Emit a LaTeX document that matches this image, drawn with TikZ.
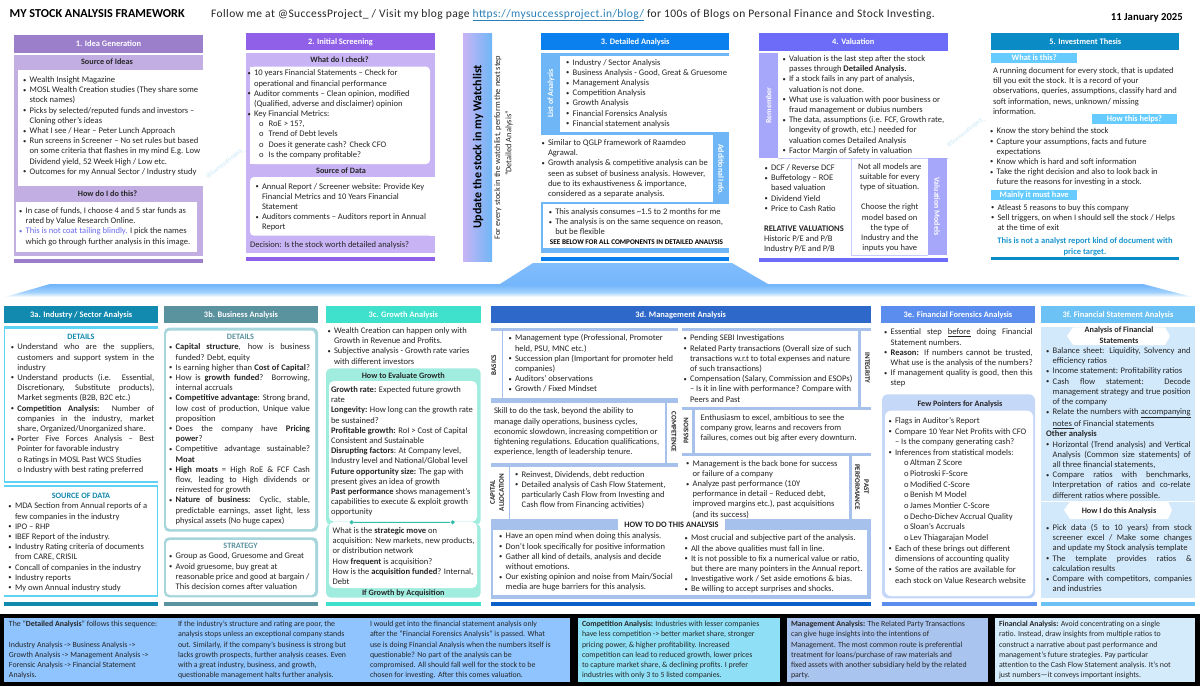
\documentclass[tikz,border=0pt]{standalone}
\usepackage{fontspec}
\setmainfont{Carlito}
\newfontfamily\spcfont[LetterSpace=3.5]{Carlito}
\usetikzlibrary{shapes.geometric}
\definecolor{ptext}{HTML}{262626}
\definecolor{ph1}{HTML}{9B7FCB}\definecolor{pb1}{HTML}{C2AEE3}
\definecolor{ph2}{HTML}{9060E8}\definecolor{pb2}{HTML}{C8B4F4}
\definecolor{ph3}{HTML}{0A7FEE}\definecolor{pb3}{HTML}{6FB6F6}
\definecolor{ph4}{HTML}{6C6CF8}\definecolor{pb4}{HTML}{A6A6FA}
\definecolor{ph5}{HTML}{0A8BC6}\definecolor{pb5}{HTML}{66CCFF}
\definecolor{hda}{HTML}{1289AE}\definecolor{sta}{HTML}{5FD3F3}
\definecolor{hdb}{HTML}{5A929E}\definecolor{stb}{HTML}{A6D6DC}
\definecolor{hdc}{HTML}{3FE0CC}\definecolor{stc}{HTML}{A0EDE0}
\definecolor{hdd}{HTML}{2E68C8}\definecolor{std}{HTML}{A6C2EC}\definecolor{bard}{HTML}{0A60C8}
\definecolor{hde}{HTML}{5B8DEF}\definecolor{ste}{HTML}{C6D8F8}
\definecolor{hdf}{HTML}{6CC2F4}\definecolor{stf}{HTML}{D2E9FB}
\definecolor{wmark}{HTML}{C4E6F6}
\definecolor{afa}{HTML}{A0D0FC}\definecolor{afb}{HTML}{74B6FB}\definecolor{afc}{HTML}{82BDFC}
\definecolor{bxa}{HTML}{8FC4FF}\definecolor{bxb}{HTML}{8FE0F6}\definecolor{bxc}{HTML}{A9C4EF}\definecolor{bxd}{HTML}{D4EBFC}
\pgfdeclareverticalshading{arrowfade}{100bp}{color(0bp)=(white);color(25bp)=(white);color(32.4bp)=(afa);color(42.6bp)=(afb);color(75bp)=(afc);color(100bp)=(afc)}
\newcounter{nn}
\newlength\bulw
\newcommand\mst{\rule{0pt}{7.5pt}}
\newcommand\bul{\raisebox{0.5pt}{\fontsize{6.5}{6.5}\selectfont •}}
\newcommand\bl[1]{\hbox{\mst\makebox[\bulw][l]{\bul}#1}}
\newcommand\jb[1]{\hbox to\hsize{\mst\makebox[\bulw][l]{\bul}#1}}
\newcommand\cl[1]{\hbox{\mst\kern\bulw #1}}
\newcommand\jc[1]{\hbox to\hsize{\mst\kern\bulw #1}}
\newcommand\ob[1]{\hbox{\mst\makebox[\bulw][l]{o}#1}}
\newcommand\pl[1]{\hbox{\mst#1}}
\tikzset{
 txt/.style={font=\fontsize{8.55}{10.2}\selectfont,text=ptext},
 small/.style={font=\fontsize{7.85}{10.17}\selectfont,text=ptext},
 hdt/.style={font=\fontsize{8.4}{10}\selectfont\bfseries,text=white},
 rhd/.style={font=\fontsize{7.9}{10}\selectfont\bfseries,text=white},
 ctr/.style={font=\fontsize{8.2}{10}\selectfont,text=ptext},
 bctr/.style={font=\fontsize{8.2}{10}\selectfont\bfseries,text=ptext},
 dia/.style={diamond,fill=hdc!85!black,inner sep=0pt,minimum size=4.5pt},
 wm/.style={font=\fontsize{6.4}{8}\selectfont,text=wmark,rotate=37},
 lbl/.style={font=\fontsize{7.1}{9}\selectfont\bfseries,text=ptext},
}
% #1 gap, #2 text x, #3 line centre y, #4 right edge, #5 lines
\newcommand\tb[5][6.5]{\stepcounter{nn}\node[txt,anchor=north west,inner sep=0pt,outer sep=0pt] (n\arabic{nn}) at ({#2-#1},{#3-4.7}) {\setlength\bulw{#1pt}\vtop{\hsize=\dimexpr#4pt-#2pt+#1pt\relax #5}};}
\newcommand\tbs[5][0]{\stepcounter{nn}\node[small,anchor=north west,inner sep=0pt,outer sep=0pt] (n\arabic{nn}) at ({#2-#1},{#3-4.7}) {\setlength\bulw{#1pt}\vtop{\hsize=\dimexpr#4pt-#2pt+#1pt\relax #5}};}
% centred text: x, y, style, text
\newcommand\ct[4]{\stepcounter{nn}\node[#3,anchor=base,inner sep=0pt] (n\arabic{nn}) at (#1,{#2+2.8}) {#4};}
% rotated: x, y, angle, style, text
\newcommand\rt[5]{\stepcounter{nn}\node[#4,rotate=#3,inner sep=0pt,align=center] (n\arabic{nn}) at (#1,#2) {#5};}
% header: x1 y1 x2 y2 colour text
\newcommand\hd[6]{\fill[#5] (#1,#2) rectangle (#3,#4);\stepcounter{nn}\node[hdt,anchor=base,inner sep=0pt] (n\arabic{nn}) at ({(#1+#3)/2},{(#2+#4)/2+2.8}) {#6};}
\begin{document}
\begin{tikzpicture}[x=1pt,y=-1pt]
\useasboundingbox (0,0) rectangle (1200,686);
\fill[white] (0,0) rectangle (1200,686);
% title line
\node[anchor=base west,inner sep=0pt,font=\fontsize{12.2}{13}\selectfont\bfseries,text=black] (title) at (9.5,17) {MY STOCK ANALYSIS FRAMEWORK};
\node[anchor=base west,inner sep=0pt,font=\fontsize{11.5}{13}\spcfont,text=ptext] (follow) at (211,17) {Follow me at @SuccessProject\_ / Visit my blog page \textcolor[HTML]{2A7FB8}{\underline{https://mysuccessproject.in/blog/}} for 100s of Blogs on Personal Finance and Stock Investing.};
\node[anchor=base east,inner sep=0pt,font=\fontsize{10.7}{12}\selectfont\bfseries,text=black] (date) at (1183,20) {11 January 2025};
% arrow band
\shade[shading=arrowfade] (5,297) -- (50,284) -- (500,284) -- (533,263) -- (732,263) -- (768,284) -- (1143,284) -- (1192,297) -- cycle;
% watermarks
\node[wm] (wm1) at (225.5,163) {@SuccessProject\_};
\node[wm] (wm2) at (966,132) {@SuccessProject\_};
%%%% Panel 1
\hd{14}{35}{203}{52.5}{ph1}{1. Idea Generation}
\fill[pb1] (14,55) rectangle (203,256);
\fill[white] (17.7,70) rectangle (203,186);
\fill[white] (15.5,201.7) rectangle (197,251.7);
\fill[ph1] (14,259.3) rectangle (203,263);
\ct{107}{62}{bctr}{Source of Ideas}
\ct{107.5}{193.7}{bctr}{How do I do this?}
\tb{29.7}{79.7}{200}{
\bl{Wealth Insight Magazine}
\bl{MOSL Wealth Creation studies (They share some}
\cl{stock names)}
\bl{Picks by selected/reputed funds and investors –}
\cl{Cloning other’s ideas}
\bl{What I see / Hear – Peter Lunch Approach}
\bl{Run screens in Screener – No set rules but based}
\cl{on some criteria that flashes in my mind E.g. Low}
\cl{Dividend yield, 52 Week High / Low etc.}
\bl{Outcomes for my Annual Sector / Industry study}}
\tb{25.7}{210.7}{195}{
\bl{In case of funds, I choose 4 and 5 star funds as}
\cl{rated by Value Research Online.}
\hbox{\mst\makebox[\bulw][l]{\color[HTML]{6A6AF0}\bul}\textcolor[HTML]{6A6AF0}{This is not coat tailing blindly.} I pick the names}
\cl{which go through further analysis in this image.}}
%%%% Panel 2
\hd{246}{33}{435}{50}{ph2}{2. Initial Screening}
\fill[pb2] (246,52.5) rectangle (435,253);
\fill[white,rounded corners=4pt] (250,66.7) rectangle (430,164);
\fill[white] (250,66.7) rectangle (256,164);
\fill[white,rounded corners=4pt] (250,177) rectangle (436,235.7);
\fill[white] (430,177) rectangle (435,235.7);
\fill[ph2] (246,256.7) rectangle (435,260.7);
\ct{339.5}{60}{bctr}{What do I check?}
\ct{341}{171}{bctr}{Source of Data}
\tb{254}{73}{430}{
\bl{10 years Financial Statements – Check for}
\cl{operational and financial performance}
\bl{Auditor comments – Clean opinion, modified}
\cl{(Qualified, adverse and disclaimer) opinion}
\bl{Key Financial Metrics:}}
\tb[9.7]{268.7}{123.9}{430}{
\ob{RoE > 15?,}
\ob{Trend of Debt levels}
\ob{Does it generate cash? Check CFO}
\ob{Is the company profitable?}}
\tb{262}{186.3}{434}{
\bl{Annual Report / Screener website: Provide Key}
\cl{Financial Metrics and 10 Years Financial}
\cl{Statement}
\bl{Auditors comments – Auditors report in Annual}
\cl{Report}}
\tb[0]{250}{244.3}{434}{\pl{Decision: Is the stock worth detailed analysis?}}
%%%% Watchlist
\shade[left color=pb2,right color=pb3] (463,33) rectangle (492,261);
\rt{478}{147}{90}{font=\fontsize{12}{15}\selectfont\bfseries,text=black}{Update the stock in my Watchlist}
\rt{498}{147.5}{90}{font=\fontsize{8.4}{10}\selectfont,text=ptext}{For every stock in the watchlist, perform the next step}
\rt{509}{143.5}{90}{font=\fontsize{8.4}{10}\selectfont,text=ptext}{“Detailed Analysis”}
%%%% Panel 3
\hd{541}{33}{729.3}{50}{ph3}{3. Detailed Analysis}
\fill[pb3] (541,52.5) rectangle (729.3,253);
\fill[white] (560,55.6) rectangle (729.3,131.7);
\fill[white] (541,135) rectangle (713,201.7);
\fill[white] (542.7,204) rectangle (729.3,248.3);
\fill[ph3] (541,257) rectangle (729.3,260.7);
\rt{551}{93.5}{90}{rhd}{List of Analysis}
\rt{721}{169.5}{-90}{rhd}{Additional Info.}
\tb{572.7}{62.3}{728}{
\bl{Industry / Sector Analysis}
\bl{Business Analysis - Good, Great \& Gruesome}
\bl{Management Analysis}
\bl{Competition Analysis}
\bl{Growth Analysis}
\bl{Financial Forensics Analysis}
\bl{Financial statement analysis}}
\tb{548}{142.7}{712}{
\bl{Similar to QGLP framework of Raamdeo}
\cl{Agrawal.}
\bl{Growth analysis \& competitive analysis can be}
\cl{seen as subset of business analysis. However,}
\cl{due to its exhaustiveness \& importance,}
\cl{considered as a separate analysis.}}
\tb{555.3}{211.7}{728}{
\bl{This analysis consumes \textasciitilde 1.5 to 2 months for me}
\bl{The analysis is on the same sequence on reason,}
\cl{but be flexible}}
\ct{636.5}{241.3}{font=\fontsize{7.2}{8}\selectfont\bfseries,text=black}{SEE BELOW FOR ALL COMPONENTS IN DETAILED ANALYSIS}
%%%% Panel 4
\hd{759}{33}{947.7}{50.5}{ph4}{4. Valuation}
\fill[pb4] (759,53) rectangle (778,158);
\fill[pb4!60] (778,157.6) rectangle (947.7,158.6);
\fill[pb4] (927.7,158) rectangle (946.7,255);
\draw[pb4!60,line width=0.6pt] (851.7,158) -- (851.7,255.3) -- (927.7,255.3);
\fill[ph4] (759,257.7) rectangle (947.7,261.7);
\rt{768.5}{105.5}{90}{rhd}{Remember}
\rt{937}{206.5}{-90}{rhd}{Valuation Models}
\tb{789}{58.7}{945}{
\bl{Valuation is the last step after the stock}
\cl{passes through \textbf{Detailed Analysis.}}
\bl{If a stock fails in any part of analysis,}
\cl{valuation is not done.}
\bl{What use is valuation with poor business  or}
\cl{fraud management or dubius numbers}
\bl{The data, assumptions (i.e. FCF, Growth rate,}
\cl{longevity of growth, etc.) needed for}
\cl{valuation comes Detailed Analysis}
\bl{Factor Margin of Safety in valuation}}
\tb{771}{167.7}{850}{
\bl{DCF / Reverse DCF}
\bl{Buffetology – ROE}
\cl{based valuation}
\bl{Dividend Yield}
\bl{Price to Cash Ratio}}
\tb[0]{764}{228.7}{850}{
\pl{\textbf{RELATIVE VALUATIONS}}
\pl{Historic P/E and P/B}
\pl{Industry P/E and P/B}}
\stepcounter{nn}\node[txt,anchor=north,inner sep=0pt] (n\arabic{nn}) at (889.7,161.3) {\vtop{\hsize=76pt\parindent=0pt\baselineskip=10.2pt\lineskiplimit=-5pt
\hbox to\hsize{\hss\mst Not all models are\hss}
\hbox to\hsize{\hss\mst suitable for every\hss}
\hbox to\hsize{\hss\mst type of situation.\hss}
\vskip10.2pt
\hbox to\hsize{\hss\mst Choose the right\hss}
\hbox to\hsize{\hss\mst model based on\hss}
\hbox to\hsize{\hss\mst the type of\hss}
\hbox to\hsize{\hss\mst Industry and the\hss}
\hbox to\hsize{\hss\mst inputs you have\hss}}};
%%%% Panel 5
\hd{991.3}{33}{1179.3}{50}{ph5}{5. Investment Thesis}
\hd{991.3}{52.7}{1077}{62.7}{pb5}{What is this?}
\hd{1092}{114}{1177}{124}{pb5}{How this helps?}
\hd{991.3}{190}{1077}{200}{pb5}{Mainly it must have}
\fill[ph5] (991.3,256.7) rectangle (1179.3,260);
\tb[0]{993}{70.7}{1178}{
\pl{A running document for every stock, that is updated}
\pl{till you exit the stock. It is a record of  your}
\pl{observations, queries, assumptions, classify hard and}
\pl{soft information, news, unknown/ missing}
\pl{information.}}
\tb{996.7}{131}{1178}{
\bl{Know the story behind the stock}
\bl{Capture your assumptions, facts and future}
\cl{expectations}
\bl{Know which is hard and soft information}
\bl{Take the right decision and also to look back in}
\cl{future the reasons for investing in a stock.}}
\tb{997.5}{207.3}{1178}{
\bl{Atleast 5 reasons to buy this company}
\bl{Sell triggers, on when I should sell the stock  / Helps}
\cl{at the time of exit}}
\ct{1085}{241}{font=\fontsize{8.5}{10}\selectfont\bfseries,text=ph5!85!pb5}{This is not a analyst report kind of document with}
\ct{1085}{251.7}{font=\fontsize{8.5}{10}\selectfont\bfseries,text=ph5!85!pb5}{price target.}
%%%% 3a
\hd{4}{305.7}{158.3}{323.3}{hda}{3a. Industry / Sector Analysis}
\fill[sta] (4,326) rectangle (158.3,483);
\fill[white] (5,329) rectangle (158.3,480.7);
\fill[sta] (4,485) rectangle (158.3,597);
\fill[white] (4,487.3) rectangle (156.5,595);
\fill[hda] (4,601.7) rectangle (158.3,605.7);
\ct{81}{337}{font=\fontsize{8.2}{10}\selectfont\bfseries,text=hda}{DETAILS}
\ct{81}{495.3}{font=\fontsize{8.2}{10}\selectfont\bfseries,text=hda}{SOURCE OF DATA}
\tb{17.3}{347}{154.3}{
\jb{Understand who are the suppliers,}
\jc{customers and support system in the}
\cl{industry}
\jb{Understand products (i.e. Essential,}
\jc{Discretionary, Substitute products),}
\cl{Market segments (B2B, B2C etc.)}
\jb{\textbf{Competition Analysis:} Number of}
\jc{companies in the industry, market}
\cl{share, Organized/Unorganized share.}
\jb{Porter Five Forces Analysis – Best}
\cl{Pointer for favorable industry}
\cl{o Ratings in MOSL Past WCS Studies}
\cl{o Industry with best rating preferred}}
\tb{15}{506}{155}{
\bl{MDA Section from Annual reports of a}
\cl{few companies in the industry}
\bl{IPO – RHP}
\bl{IBEF Report of the industry.}
\bl{Industry Rating criteria of documents}
\cl{from CARE, CRISIL}
\bl{Concall of companies in the industry}
\bl{Industry reports}
\bl{My own Annual industry study}}
%%%% 3b
\hd{163.7}{305.7}{318.3}{323.3}{hdb}{3b. Business Analysis}
\fill[stb,rounded corners=5pt] (164,327.7) rectangle (318,531.7);
\fill[white,rounded corners=4pt] (166,330.5) rectangle (315,529);
\fill[stb,rounded corners=5pt] (164,537.3) rectangle (318,597.3);
\fill[white,rounded corners=4pt] (166,540) rectangle (315,595);
\fill[hdb] (163.7,601.7) rectangle (318.3,605.7);
\ct{240.5}{337}{font=\fontsize{8.2}{10}\selectfont\bfseries,text=hdb}{DETAILS}
\ct{240.5}{545.7}{font=\fontsize{8.2}{10}\selectfont\bfseries,text=hdb}{STRATEGY}
\tb{175.7}{347}{310}{
\jb{\textbf{Capital structure}, how is business}
\cl{funded? Debt, equity}
\jb{Is earning higher than \textbf{Cost of Capital}?}
\jb{How is \textbf{growth funded}? Borrowing,}
\cl{internal accruals}
\jb{\textbf{Competitive advantage}: Strong brand,}
\jc{low cost of production, Unique value}
\cl{proposition}
\jb{Does the company have \textbf{Pricing}}
\cl{\textbf{power}?}
\jb{Competitive advantage sustainable?}
\cl{\textbf{Moat}}
\jb{\textbf{High moats} = High RoE \& FCF Cash}
\jc{flow, leading to High dividends or}
\cl{reinvested for growth}
\jb{\textbf{Nature of business:} Cyclic, stable,}
\jc{predictable earnings, asset light, less}
\cl{physical assets (No huge capex)}}
\tb{175.7}{556}{312}{
\bl{Group as Good, Gruesome and Great}
\bl{Avoid gruesome, buy great at}
\cl{reasonable price and good at bargain /}
\cl{This decision comes after valuation}}
%%%% 3c
\hd{326}{305.7}{480.7}{323.3}{hdc}{3c. Growth Analysis}
\tb{334}{330.7}{480}{
\bl{Wealth Creation can happen only with}
\cl{Growth in Revenue and Profits.}
\bl{Subjective analysis - Growth rate varies}
\cl{with different investors}}
\fill[stc,rounded corners=5pt] (326,368.3) rectangle (480.7,525);
\fill[white,rounded corners=5pt] (329,381) rectangle (477,521.7);
\fill[stc,rounded corners=5pt] (326,524) rectangle (480.7,597.7);
\fill[white,rounded corners=5pt] (329,522) rectangle (477,588);
\node[dia] (gd1) at (351.7,522.3) {};
\node[dia] (gd2) at (452.7,522.3) {};
\draw[hdc!85!black,line width=0.5pt] (gd1) -- (gd2);
\fill[hdc] (326,601.7) rectangle (480.7,605.7);
\ct{403.3}{375.3}{bctr}{How to Evaluate Growth}
\ct{403.3}{592.7}{bctr}{If Growth by Acquisition}
\tb[0]{331}{389.7}{476}{
\pl{\textbf{Growth rate:} Expected future growth}
\pl{rate}
\pl{\textbf{Longevity:} How long can the growth rate}
\pl{be sustained?}
\pl{\textbf{Profitable growth:} RoI > Cost of Capital}
\pl{Consistent and Sustainable}
\pl{\textbf{Disrupting factors}: At Company level,}
\pl{Industry level and National/Global level}
\pl{\textbf{Future opportunity size:} The gap with}
\pl{present gives an idea of growth}
\pl{\textbf{Past performance} shows management’s}
\pl{capabilities to execute \& exploit growth}
\pl{opportunity}}
\tb[0]{332.7}{530.7}{476}{
\pl{What is the \textbf{strategic move} on}
\pl{acquisition: New markets, new products,}
\pl{or distribution network}
\pl{How \textbf{frequent} is acquisition?}
\pl{How is the \textbf{acquisition funded}? Internal,}
\pl{Debt}}
%%%% 3d
\hd{490.7}{305.7}{870.7}{323.3}{hdd}{3d. Management Analysis}
\fill[std] (491,328) rectangle (678,331);
\fill[std] (682,328) rectangle (870.7,331);
\fill[std] (501.5,331) rectangle (503,398);
\fill[std] (491,398) rectangle (678,403);
\fill[std] (665,403) rectangle (667,463);
\fill[std] (491,463) rectangle (678,467);
\fill[std] (682,406.7) rectangle (870.7,410);
\fill[std] (692.3,410) rectangle (695,453);
\fill[std] (682,452.5) rectangle (870.7,455.7);
\fill[std] (849,455.7) rectangle (851.7,519);
\fill[std] (858,331) rectangle (860.7,407);
\fill[std] (509,467) rectangle (510,519);
\fill[std] (491,519) rectangle (618,530);
\fill[std] (724.5,519) rectangle (870.7,530);
\fill[std] (491,530) rectangle (493,595);
\fill[std] (867,530) rectangle (870.7,599);
\fill[std] (491,595) rectangle (870.7,599);
\fill[bard] (490.7,602.3) rectangle (870.7,606);
\rt{493.8}{365}{90}{lbl}{BASICS}
\rt{867.5}{368}{-90}{lbl}{INTEGRITY}
\rt{674}{432}{-90}{lbl}{COMPETENCE}
\rt{686}{431}{90}{lbl}{PASSION}
\rt{497}{492.5}{90}{lbl}{CAPITAL\\ALLOCATION}
\rt{862}{487}{-90}{lbl}{PAST\\PERFORMANCE}
\ct{671.5}{524.3}{font=\fontsize{8.3}{10}\selectfont\bfseries,text=ptext}{HOW TO DO THIS ANALYSIS}
\tb{515}{338}{665}{
\bl{Management type (Professional, Promoter}
\cl{held, PSU, MNC etc.)}
\bl{Succession plan (Important for promoter held}
\cl{companies)}
\bl{Auditors’ observations}
\bl{Growth / Fixed Mindset}}
\tb[0]{494}{411}{664}{
\pl{Skill to do the task, beyond the ability to}
\pl{manage daily operations, business cycles,}
\pl{economic slowdown, increasing competition or}
\pl{tightening regulations. Education qualifications,}
\pl{experience, length of leadership tenure.}}
\tb{521.7}{474.3}{665}{
\bl{Reinvest, Dividends, debt reduction}
\bl{Detailed analysis of Cash Flow Statement,}
\cl{particularly Cash Flow from Investing and}
\cl{Cash flow from Financing activities)}}
\tb{505.7}{536}{665}{
\bl{Have an open mind when doing this analysis.}
\bl{Don’t look specifically for positive information}
\bl{Gather all kind of details, analysis and decide}
\cl{without emotions.}
\bl{Our existing opinion and noise from Main/Social}
\cl{media are huge barriers for this analysis.}}
\tb{690}{338}{857}{
\bl{Pending SEBI Investigations}
\bl{Related Party transactions (Overall size of such}
\cl{transactions w.r.t to total expenses and nature}
\cl{of such transactions)}
\bl{Compensation (Salary, Commission and ESOPs)}
\cl{– Is it in line with performance? Compare with}
\cl{Peers and Past}}
\tb[0]{700.7}{417.3}{868}{
\pl{Enthusiasm to excel, ambitious to see the}
\pl{company grow, learns and recovers from}
\pl{failures, comes out big after every downturn.}}
\tb{692.7}{463.3}{848}{
\bl{Management is the back bone for success}
\cl{or failure of a company}
\bl{Analyze past performance (10Y}
\cl{performance in detail – Reduced debt,}
\cl{improved margins etc.), past acquisitions}
\cl{(and its success)}}
\tb{691}{538}{866}{
\bl{Most crucial and subjective part of the analysis.}
\bl{All the above qualities must fall in line.}
\bl{It is not possible to fix a numerical value or ratio,}
\cl{but there are many pointers in the Annual report.}
\bl{Investigative work / Set aside emotions \& bias.}
\bl{Be willing to accept surprises and shocks.}}
%%%% 3e
\hd{881}{305.7}{1035}{323.3}{hde}{3e. Financial Forensics Analysis}
\tb{890.7}{332}{1032.7}{
\jb{Essential step \underline{before} doing Financial}
\cl{Statement numbers.}
\jb{\textbf{Reason:} If numbers cannot be trusted,}
\cl{What use is the analysis of the numbers?}
\jb{If management quality is good, then this}
\cl{step}}
\fill[ste,rounded corners=6pt] (882,394.3) rectangle (1035,598.3);
\fill[white,rounded corners=6pt] (885,410.7) rectangle (1033,596);
\fill[hde] (882,602) rectangle (1037,606);
\ct{960}{404}{bctr}{Few Pointers for Analysis}
\tb{895}{420.7}{1032}{\baselineskip=10.6pt
\bl{Flags in Auditor’s Report}
\bl{Compare 10 Year Net Profits with CFO}
\cl{– Is the company generating cash?}
\bl{Inferences from statistical models:}}
\tb[6]{910}{463}{1032}{\baselineskip=10.65pt
\ob{Altman Z Score}
\ob{Piotroski F-Score}
\ob{Modified C-Score}
\ob{Benish M Model}
\ob{James Montier C-Score}
\ob{Decho-Dichev Accrual Quality}
\ob{Sloan’s Accruals}
\ob{Lev Thiagarajan Model}}
\tb{895}{548.3}{1032}{\baselineskip=10.65pt
\bl{Each of these brings out different}
\cl{dimensions of accounting quality}
\bl{Some of the ratios are available for}
\cl{each stock on Value Research website}}
%%%% 3f
\hd{1041}{305.7}{1195}{323.3}{hdf}{3f. Financial Statement Analysis}
\fill[stf] (1041,327.3) rectangle (1195,597.7);
\fill[white] (1041,500.8) rectangle (1195,502);
\fill[white] (1073,327.3) -- (1165,327.3) -- (1170,336) -- (1165,345) -- (1073,345) -- (1067,336) -- cycle;
\fill[white] (1070,501.7) -- (1168,501.7) -- (1172,510) -- (1168,519) -- (1070,519) -- (1064,510) -- cycle;
\fill[hdf] (1041,602) rectangle (1195,606);
\ct{1119}{330}{bctr}{Analysis of Financial}
\ct{1119}{340.7}{bctr}{Statements}
\ct{1119}{510.3}{bctr}{How I do this Analysis}
\tb{1052.7}{350.7}{1190.7}{
\jb{Balance sheet: Liquidity, Solvency and}
\cl{efficiency ratios}
\bl{Income statement: Profitability ratios}
\jb{Cash flow statement: Decode}
\jc{management strategy and true position}
\cl{of the company}
\jb{Relate the numbers with \underline{accompanying}}
\cl{\underline{notes }of Financial statements}
\pl{\textbf{Other analysis}}
\jb{Horizontal (Trend analysis) and Vertical}
\jc{Analysis (Common size statements) of}
\cl{all three financial statements,}
\jb{Compare ratios with benchmarks,}
\jc{Interpretation of ratios and co-relate}
\cl{different ratios where possible.}}
\tb{1052.7}{527.7}{1192}{
\jb{Pick data (5 to 10 years) from stock}
\jc{screener excel / Make some changes}
\cl{and update my Stock analysis template}
\jb{The template provides ratios \&}
\cl{calculation results}
\jb{Compare with competitors, companies}
\cl{and industries}}
%%%% bottom band
\fill[black] (0,614) rectangle (1200,686);
\fill[bxa] (4,618) rectangle (570,682);
\fill[bxb] (578,618) rectangle (780,682);
\fill[bxc] (787,618) rectangle (988,682);
\fill[bxd] (995,618) rectangle (1195,682);
\tbs{9}{624}{175}{
\pl{The “\textbf{Detailed Analysis}” follows this sequence:}
\pl{~}
\pl{Industry Analysis -> Business Analysis ->}
\pl{Growth Analysis -> Management Analysis ->}
\pl{Forensic Analysis -> Financial Statement}
\pl{Analysis.}}
\tbs{178}{624}{365}{
\pl{If the industry’s structure and rating are poor, the}
\pl{analysis stops unless an exceptional company stands}
\pl{out. Similarly, if the company’s business is strong but}
\pl{lacks growth prospects, further analysis ceases. Even}
\pl{with a great industry, business, and growth,}
\pl{questionable management halts further analysis.}}
\tbs{370}{624}{568}{
\pl{I would get into the financial statement analysis only}
\pl{after the “Financial Forensics Analysis” is passed. What}
\pl{use is doing Financial Analysis when the numbers itself is}
\pl{questionable? No part of the analysis can be}
\pl{compromised. All should fall well for the stock to be}
\pl{chosen for investing. After this comes valuation.}}
\tbs{582}{624}{779}{
\pl{\textbf{Competition Analysis:} Industries with lesser companies}
\pl{have less competition -> better market share, stronger}
\pl{pricing power, \& higher profitability. Increased}
\pl{competition can lead to reduced growth, lower prices}
\pl{to capture market share, \& declining profits. I prefer}
\pl{industries with only 3 to 5 listed companies.}}
\tbs{791}{624}{987}{
\pl{\textbf{Management Analysis:} The Related Party Transactions}
\pl{can give huge insights into the intentions of}
\pl{Management. The most common route is preferential}
\pl{treatment for loans/purchase of raw materials and}
\pl{fixed assets with another subsidiary held by the related}
\pl{party.}}
\tbs{999}{624}{1194}{
\pl{\textbf{Financial Analysis:} Avoid concentrating on a single}
\pl{ratio. Instead, draw insights from multiple ratios to}
\pl{construct a narrative about past performance and}
\pl{management’s future strategies. Pay particular}
\pl{attention to the Cash Flow Statement analysis. It’s not}
\pl{just numbers—it conveys important insights.}}
\end{tikzpicture}
\end{document}
